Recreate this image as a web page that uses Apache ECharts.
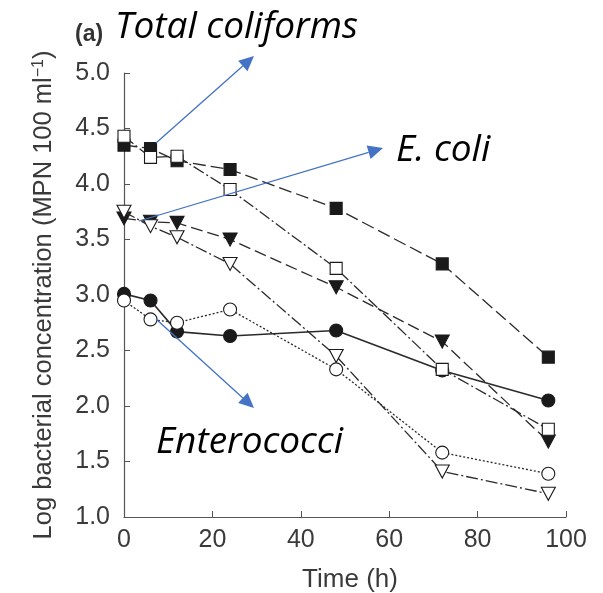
<!DOCTYPE html>
<html>
<head>
<meta charset="utf-8">
<script src="https://cdn.jsdelivr.net/npm/echarts@6/dist/echarts.min.js"></script>
<style>html,body{margin:0;padding:0;background:#fff;}#c{width:603px;height:593px;}</style>
</head>
<body>
<div id="c"></div>
<script>
var times = [0, 6, 12, 24, 48, 72, 96];
var xTicks = [0, 20, 40, 60, 80, 100];
var yTicks = [1.0, 1.5, 2.0, 2.5, 3.0, 3.5, 4.0, 4.5, 5.0];
var tcFilled = [4.35, 4.32, 4.21, 4.13, 3.78, 3.28, 2.44];
var tcOpen = [4.43, 4.24, 4.25, 3.95, 3.24, 2.33, 1.79];
var ecFilled = [3.69, 3.66, 3.65, 3.50, 3.07, 2.58, 1.68];
var ecOpen = [3.75, 3.62, 3.52, 3.28, 2.45, 1.41, 1.21];
var entFilled = [3.01, 2.95, 2.67, 2.63, 2.68, 2.32, 2.05];
var entOpen = [2.95, 2.78, 2.75, 2.87, 2.33, 1.58, 1.39];
var labels = ['Total coliforms', 'E. coli', 'Enterococci', '(a)'];

function pts(v){ return times.map(function(t,i){ return [t, v[i]]; }); }
function mk(name, data, symbol, filled, size, dash, width){
  return {
    type:'line', name:name, data:pts(data), symbol:symbol, symbolSize:size,
    showSymbol:true, clip:false,
    lineStyle:{color:'#2a2a2a', width:width||1.3, type:dash},
    itemStyle:{color: filled ? '#1a1a1a' : '#ffffff', borderColor:'#1a1a1a', borderWidth:1.1},
    emphasis:{disabled:true}, z: filled ? 3 : 4
  };
}
var tri = 'path://M0,0 L10,0 L5,9 Z';
var chart = echarts.init(document.getElementById('c'), null, {renderer:'canvas'});
var sans = 'Liberation Sans, Arial, sans-serif';
var axisFont = {fontFamily:sans, fontSize:25, color:'#3a3a3a'};
chart.setOption({
  animation:false,
  backgroundColor:'#ffffff',
  grid:{left:124, right:37, top:73, bottom:76, containLabel:false, outerBoundsMode:'none'},
  xAxis:{type:'value', min:0, max:100, interval:20,
    axisLine:{lineStyle:{color:'#555', width:1.2}},
    axisTick:{inside:true, length:6, lineStyle:{color:'#555'}},
    splitLine:{show:false},
    axisLabel:Object.assign({margin:11}, axisFont),
    name:'Time (h)', nameLocation:'middle', nameGap:50,
    nameTextStyle:{fontFamily:sans, fontSize:26, color:'#3a3a3a', padding:[0,0,0,10]}
  },
  yAxis:{type:'value', min:1, max:5, interval:0.5,
    axisLine:{show:true, lineStyle:{color:'#555', width:1.2}},
    axisTick:{show:true, inside:true, length:6, lineStyle:{color:'#555'}},
    splitLine:{show:false},
    axisLabel:Object.assign({margin:14, formatter:function(v){return v.toFixed(1);}}, axisFont),
    name:'{n|Log bacterial concentration (MPN 100 ml}{s|−1}{n|)}',
    nameLocation:'middle', nameRotate:90, nameGap:67,
    nameTextStyle:{rich:{
      n:{fontFamily:sans, fontSize:25.5, color:'#3a3a3a'},
      s:{fontFamily:sans, fontSize:16, color:'#3a3a3a', verticalAlign:'top', padding:[0,0,10,0]}
    }}
  },
  series:[
    mk('TC filled', tcFilled, 'rect', true, 12, [13,5]),
    mk('TC open', tcOpen, 'rect', false, 12, [12,3,2,3]),
    mk('EC filled', ecFilled, tri, true, [14,13], [12,5]),
    mk('EC open', ecOpen, tri, false, [14,13], [12,3,2,3]),
    mk('Ent filled', entFilled, 'circle', true, 13, 'solid', 1.6),
    mk('Ent open', entOpen, 'circle', false, 13, [2,2])
  ]
});

// annotations: arrows and labels
var blue = '#4472C4';
function arrow(x1,y1,x2,y2){
  var ang = Math.atan2(y2-y1, x2-x1), L=15, W=7;
  var bx = x2 - L*Math.cos(ang), by = y2 - L*Math.sin(ang);
  var px = -Math.sin(ang), py = Math.cos(ang);
  return [
    {type:'line', shape:{x1:x1,y1:y1,x2:bx,y2:by}, style:{stroke:blue, lineWidth:1.3}, z:10},
    {type:'polygon', shape:{points:[[x2,y2],[bx+px*W,by+py*W],[bx-px*W,by-py*W]]}, style:{fill:blue}, z:10}
  ];
}
var g = [];
g = g.concat(arrow(156,143,254,56));
g = g.concat(arrow(139,221,383,148));
g = g.concat(arrow(156,319,254,408));
var itFont = '"Open Sans", Lato, sans-serif';
g.push({type:'text', style:{x:115, y:27, text:labels[0], font:'italic 37px '+itFont, fill:'#000', verticalAlign:'middle'}, z:11});
g.push({type:'text', style:{x:396, y:150, text:labels[1], font:'italic 37px '+itFont, fill:'#000', verticalAlign:'middle'}, z:11});
g.push({type:'text', style:{x:156, y:442, text:labels[2], font:'italic 37px '+itFont, fill:'#000', verticalAlign:'middle'}, z:11});
g.push({type:'text', style:{x:75, y:35, text:labels[3], font:'bold 23px '+sans, fill:'#333', verticalAlign:'middle'}, z:11});
chart.setOption({graphic:g});
</script>
</body>
</html>
